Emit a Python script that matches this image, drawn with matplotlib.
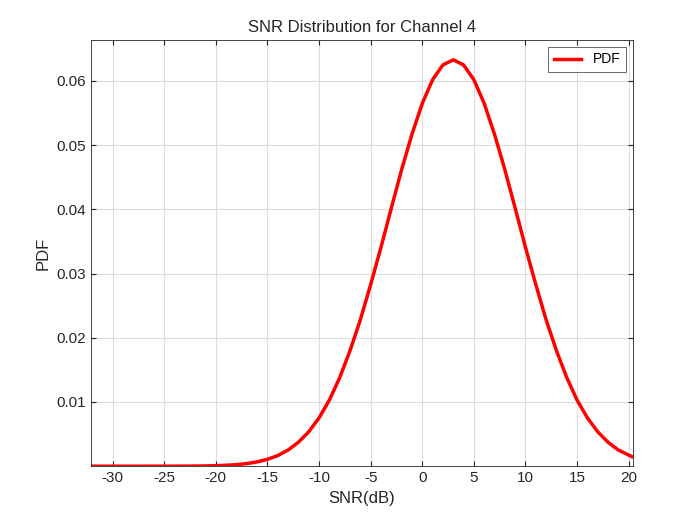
import matplotlib
matplotlib.use("Agg")
import matplotlib.pyplot as plt

plt.rcParams["font.family"] = ["Liberation Sans", "DejaVu Sans"]
plt.rcParams["axes.unicode_minus"] = False

# SNR (dB) sample points and PDF values
snr_db = list(range(-32, 20)) + [20.3]
pdf = [0.0, 0.0, 0.0, 0.0, 0.0, 0.0, 0.000001, 0.000003, 0.000006, 0.000012,
       0.000023, 0.000045, 0.000081, 0.000142, 0.000246, 0.00041, 0.00067,
       0.00107, 0.00166, 0.00252, 0.00373, 0.00536, 0.00753, 0.0103, 0.0138,
       0.0180, 0.0228, 0.0283, 0.0341, 0.0402, 0.0462, 0.0517, 0.0565,
       0.0602, 0.0625, 0.0633, 0.0625, 0.0602, 0.0565, 0.0517, 0.0462,
       0.0402, 0.0341, 0.0283, 0.0228, 0.0180, 0.0138, 0.0103, 0.00753,
       0.00536, 0.00373, 0.00252, 0.00150]
x_ticks = [-30, -25, -20, -15, -10, -5, 0, 5, 10, 15, 20]
y_ticks = [0.01, 0.02, 0.03, 0.04, 0.05, 0.06]

fig = plt.figure(figsize=(7, 5.25), dpi=100)
ax = fig.add_axes([0.13, 0.112, 0.774, 0.812])
ax.plot(snr_db, pdf, color="red", linewidth=2.5, label="PDF")
ax.set_xlim(-32.1, 20.4)
ax.set_ylim(0, 0.0664)
ax.set_xticks(x_ticks)
ax.set_yticks(y_ticks)
ax.set_yticklabels([f"{v:.2f}" for v in y_ticks])
ax.grid(True, color="#dcdcdc", linewidth=0.8)
ax.set_axisbelow(True)
ax.tick_params(direction="in", top=True, right=True, labelsize=11, colors="#262626")
for s in ax.spines.values():
    s.set_color("#262626")
    s.set_linewidth(0.6)
ax.set_title("SNR Distribution for Channel 4", fontsize=12, color="#262626")
ax.set_xlabel("SNR(dB)", fontsize=12, color="#262626")
ax.set_ylabel("PDF", fontsize=12, color="#262626")
leg = ax.legend(loc="upper right", fancybox=False, edgecolor="#262626", fontsize=10)
leg.get_frame().set_linewidth(0.6)
fig.savefig("out.png", dpi=100)
